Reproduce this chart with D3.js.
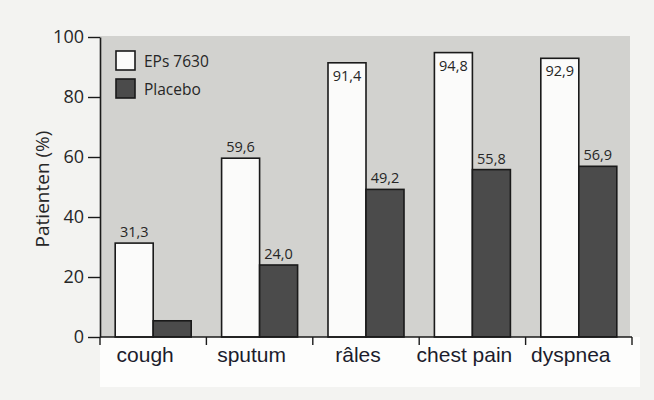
<!DOCTYPE html>
<html>
<head>
<meta charset="utf-8">
<script src="https://cdn.jsdelivr.net/npm/d3@7"></script>
<style>
  body { margin: 0; background: #f3f3f1; }
  svg { display: block; }
</style>
</head>
<body>
<svg id="chart" width="654" height="400"></svg>
<script>
const categories = ['cough', 'sputum', 'râles', 'chest pain', 'dyspnea']
const seriesNames = ['EPs 7630', 'Placebo']
const epsValues = [31.3, 59.6, 91.4, 94.8, 92.9]
const placeboValues = [5.4, 24.0, 49.2, 55.8, 56.9]
const placeboLabels = [null, '24,0', '49,2', '55,8', '56,9']
const epsLabels = ['31,3', '59,6', '91,4', '94,8', '92,9']
const yTicks = [0, 20, 40, 60, 80, 100]

const seriesColor = d3.scaleOrdinal()
  .domain(seriesNames)
  .range(['#fbfbfa', '#4b4b4b'])

const svg = d3.select('#chart')
const humanist = '"Open Sans", "Noto Sans", sans-serif'

const x = d3.scaleBand()
  .domain(categories)
  .range([100, 632])
  .padding(0)

const xSub = d3.scaleBand()
  .domain(seriesNames)
  .range([0, x.bandwidth()])
  .paddingInner(0)
  .paddingOuter(0.4)

const y = d3.scaleLinear()
  .domain([0, 100])
  .range([337, 37])

// grey plot area
svg.append('rect')
  .attr('x', x.range()[0])
  .attr('y', y(100) - 1)
  .attr('width', x.range()[1] - x.range()[0] - 2)
  .attr('height', y(0) - y(100) + 1)
  .attr('fill', '#d2d2cf')

// white strip under the axis
svg.append('rect')
  .attr('x', x.range()[0])
  .attr('y', y(0))
  .attr('width', x.range()[1] - x.range()[0] + 8)
  .attr('height', 50)
  .attr('fill', '#fdfdfc')

const rows = categories.map((c, i) => ({
  cat: c,
  bars: [
    { series: seriesNames[0], value: epsValues[i], label: epsLabels[i] },
    { series: seriesNames[1], value: placeboValues[i], label: placeboLabels[i] }
  ]
}))

const group = svg.selectAll('.group')
  .data(rows)
  .enter().append('g')
  .attr('class', 'group')
  .attr('transform', d => `translate(${x(d.cat)},0)`)

group.selectAll('rect')
  .data(d => d.bars)
  .enter().append('rect')
  .attr('x', d => xSub(d.series))
  .attr('y', d => y(d.value))
  .attr('width', xSub.bandwidth())
  .attr('height', d => y(0) - y(d.value))
  .attr('fill', d => seriesColor(d.series))
  .attr('stroke', '#1a1a1a')
  .attr('stroke-width', 1.6)

// value labels: inside the bar when there is no room above it
group.selectAll('.val')
  .data(d => d.bars.filter(b => b.label))
  .enter().append('text')
  .attr('class', 'val')
  .attr('x', d => xSub(d.series) + xSub.bandwidth() / 2)
  .attr('y', d => y(d.value) - 30 < y(100) ? y(d.value) + 18 : y(d.value) - 6)
  .attr('text-anchor', 'middle')
  .style('font-family', humanist)
  .style('font-size', '14.5px')
  .attr('fill', '#262626')
  .text(d => d.label)

// y axis
const yAxis = svg.append('g')
  .attr('transform', `translate(${x.range()[0]},0)`)
  .call(d3.axisLeft(y).tickValues(yTicks).tickSize(12).tickSizeOuter(0).tickPadding(4))
yAxis.select('.domain').attr('stroke', '#1a1a1a').attr('stroke-width', 1.6)
yAxis.selectAll('.tick line').attr('stroke', '#1a1a1a').attr('stroke-width', 1.4)
yAxis.selectAll('.tick text')
  .style('font-family', humanist)
  .style('font-size', '18px')
  .attr('fill', '#262626')

// x axis: ticks at band boundaries
svg.append('line')
  .attr('x1', x.range()[0]).attr('x2', x.range()[1])
  .attr('y1', y(0)).attr('y2', y(0))
  .attr('stroke', '#1a1a1a').attr('stroke-width', 1.6)

const boundaries = categories.map(c => x(c)).concat([x.range()[1]])
svg.selectAll('.xtick')
  .data(boundaries)
  .enter().append('line')
  .attr('class', 'xtick')
  .attr('x1', d => d).attr('x2', d => d)
  .attr('y1', y(0)).attr('y2', y(0) + 8)
  .attr('stroke', '#1a1a1a').attr('stroke-width', 1.4)

svg.selectAll('.xlabel')
  .data(categories)
  .enter().append('text')
  .attr('class', 'xlabel')
  .attr('x', d => x(d) + x.bandwidth() / 2 - 8)
  .attr('y', y(0) + 25)
  .attr('text-anchor', 'middle')
  .style('font-family', '"Liberation Sans", Arial, sans-serif')
  .style('font-size', '21px')
  .attr('fill', '#1c1c2c')
  .text(d => d)

// y axis title
svg.append('text')
  .attr('transform', 'translate(49,189) rotate(-90)')
  .attr('text-anchor', 'middle')
  .style('font-family', humanist)
  .style('font-size', '19px')
  .attr('fill', '#262626')
  .text('Patienten (%)')

// legend
const legend = svg.append('g')
  .attr('transform', 'translate(116,51)')

const legendItem = legend.selectAll('.legendItem')
  .data(seriesNames)
  .enter().append('g')
  .attr('class', 'legendItem')
  .attr('transform', (d, i) => `translate(0, ${i * 28})`)

legendItem.append('rect')
  .attr('width', 19)
  .attr('height', 19)
  .attr('fill', d => seriesColor(d))
  .attr('stroke', '#1a1a1a')
  .attr('stroke-width', 1.6)

legendItem.append('text')
  .attr('x', 28)
  .attr('y', 16)
  .style('font-family', humanist)
  .style('font-size', '15.5px')
  .attr('fill', '#262626')
  .text(d => d)
</script>
</body>
</html>
